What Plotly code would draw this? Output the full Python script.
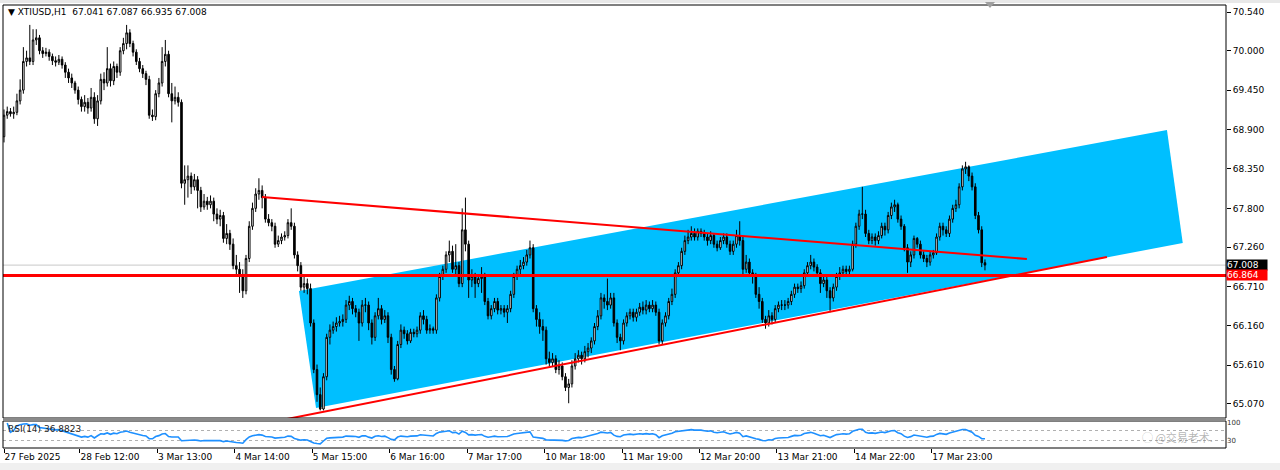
import numpy as np
import plotly.graph_objects as go

# ---------------- data ----------------
first_open = 68.80
close = [
69.10,69.15,69.12,69.14,69.30,69.45,69.85,69.90,69.85,70.15,
70.18,70.00,69.96,69.98,69.92,69.86,69.84,69.88,69.80,69.70,
69.62,69.55,69.45,69.32,69.22,69.28,69.20,69.35,69.05,69.30,
69.60,69.55,69.75,69.58,69.78,69.70,70.00,70.10,70.25,70.10,
69.98,69.85,69.75,69.68,69.60,69.10,69.08,69.40,69.55,69.85,
69.95,69.40,69.30,69.35,69.28,68.15,68.20,68.25,68.10,68.20,
68.05,67.82,67.90,67.85,67.90,67.72,67.65,67.70,67.38,67.45,
67.30,67.00,66.95,66.85,66.65,67.10,67.55,67.80,68.00,68.05,
67.95,67.65,67.60,67.55,67.30,67.35,67.40,67.42,67.60,67.55,
67.15,67.00,66.70,66.75,66.68,66.20,65.55,65.20,65.00,65.45,
66.00,66.10,66.15,66.20,66.22,66.25,66.45,66.50,66.40,66.35,
66.20,66.45,66.45,66.20,66.00,66.30,66.40,66.25,66.30,66.00,
65.55,65.42,65.90,66.10,66.05,65.95,66.07,66.05,66.10,66.30,
66.25,66.10,66.12,66.10,66.55,66.85,66.95,67.15,67.20,66.95,
67.00,66.75,67.50,67.30,66.80,66.85,66.75,66.82,66.85,66.50,
66.30,66.40,66.50,66.38,66.40,66.35,66.40,66.60,66.85,66.95,
67.00,67.05,67.15,67.25,66.40,66.25,66.15,66.10,65.70,65.65,
65.70,65.55,65.60,65.45,65.30,65.35,65.60,65.70,65.75,65.70,
65.80,65.85,65.95,66.15,66.30,66.55,66.50,66.45,66.55,66.20,
66.00,65.95,66.20,66.30,66.35,66.28,66.35,66.42,66.38,66.45,
66.40,66.45,66.35,65.95,66.20,66.30,66.50,66.60,66.90,67.00,
67.20,67.35,67.40,67.45,67.40,67.48,67.45,67.40,67.35,67.42,
67.30,67.25,67.35,67.40,67.30,67.20,67.30,67.42,67.35,66.95,
67.05,66.90,66.85,66.60,66.50,66.25,66.20,66.30,66.25,66.40,
66.45,66.45,66.45,66.50,66.60,66.70,66.68,66.72,66.90,67.00,
67.05,66.98,66.90,66.75,66.80,66.65,66.55,66.70,66.85,66.90,
66.95,66.92,66.95,67.30,67.55,67.72,67.72,67.45,67.35,67.40,
67.35,67.42,67.55,67.50,67.70,67.82,67.85,67.65,67.55,67.25,
67.05,67.15,67.38,67.30,67.15,67.10,67.05,67.15,67.18,67.40,
67.55,67.50,67.45,67.65,67.80,67.85,68.10,68.35,68.38,68.25,
68.10,67.70,67.50,67.041,67.008]
high = [
69.18,69.22,69.20,69.22,69.40,69.60,70.05,70.00,70.36,70.30,
70.30,70.22,70.05,70.04,70.02,69.96,69.92,69.94,69.92,69.84,
69.75,69.68,69.58,69.50,69.36,69.38,69.34,69.48,69.42,69.38,
69.68,69.70,70.05,69.82,69.85,69.82,70.05,70.18,70.36,70.30,
70.14,70.02,69.90,69.80,69.72,69.65,69.18,69.45,69.62,70.05,
70.15,70.00,69.55,69.50,69.42,69.32,68.40,68.40,68.30,68.28,
68.25,68.10,68.00,67.96,67.98,67.95,67.80,67.78,67.75,67.58,
67.50,67.38,67.15,67.05,66.95,67.15,67.62,67.88,68.08,68.22,
68.12,68.00,67.72,67.65,67.60,67.42,67.45,67.48,67.65,67.80,
67.60,67.20,67.05,66.85,66.82,66.75,66.25,65.62,65.30,65.50,
66.05,66.18,66.22,66.28,66.30,66.32,66.52,66.58,66.55,66.45,
66.40,66.52,66.55,66.50,66.25,66.35,66.55,66.45,66.38,66.35,
66.05,65.60,65.95,66.18,66.15,66.10,66.12,66.12,66.15,66.35,
66.38,66.30,66.18,66.15,66.60,66.90,67.00,67.20,67.35,67.28,
67.30,67.05,67.80,67.95,67.35,66.95,66.90,66.88,66.98,66.90,
66.55,66.45,66.55,66.55,66.45,66.45,66.45,66.65,66.90,67.00,
67.08,67.12,67.22,67.35,67.30,66.45,66.35,66.25,66.15,65.80,
65.78,65.75,65.68,65.65,65.50,65.42,65.68,65.78,65.82,65.80,
65.88,65.92,66.00,66.20,66.38,66.62,66.60,66.82,66.62,66.62,
66.25,66.05,66.25,66.35,66.40,66.40,66.40,66.48,66.50,66.52,
66.50,66.52,66.50,66.40,66.25,66.35,66.55,66.68,66.95,67.05,
67.25,67.42,67.50,67.55,67.52,67.52,67.52,67.50,67.45,67.48,
67.45,67.35,67.40,67.45,67.45,67.35,67.35,67.50,67.62,67.40,
67.15,67.10,66.95,66.90,66.70,66.55,66.30,66.38,66.35,66.45,
66.50,66.52,66.52,66.55,66.65,66.75,66.75,66.78,66.95,67.05,
67.15,67.10,67.02,66.95,66.88,66.85,66.70,66.75,66.90,66.98,
67.00,67.00,67.00,67.35,67.60,67.78,68.10,67.78,67.50,67.45,
67.45,67.48,67.60,67.60,67.75,67.88,67.92,67.88,67.70,67.58,
67.30,67.20,67.42,67.40,67.35,67.20,67.15,67.20,67.22,67.45,
67.60,67.60,67.55,67.70,67.85,67.92,68.15,68.40,68.45,68.40,
68.30,68.15,67.75,67.55,67.087]
low = [
68.72,69.05,69.08,69.05,69.10,69.25,69.40,69.78,69.80,69.80,
70.08,69.95,69.90,69.92,69.86,69.80,69.78,69.80,69.75,69.62,
69.55,69.48,69.40,69.25,69.15,69.15,69.12,69.15,68.98,68.95,
69.25,69.45,69.50,69.50,69.52,69.62,69.65,69.95,70.02,70.05,
69.92,69.80,69.70,69.62,69.52,69.05,69.02,69.03,69.35,69.50,
69.78,69.35,69.00,69.25,69.22,68.08,67.85,67.95,68.00,68.05,
67.80,67.75,67.78,67.78,67.80,67.62,67.58,67.55,67.32,67.30,
67.22,66.95,66.85,66.62,66.55,66.60,67.05,67.50,67.75,67.92,
67.80,67.60,67.55,67.48,67.25,67.26,67.30,67.35,67.38,67.50,
67.10,66.92,66.65,66.62,66.60,66.15,65.50,65.10,64.98,64.98,
65.40,65.90,66.05,66.08,66.15,66.15,66.20,66.38,66.32,66.28,
65.95,66.15,66.35,66.10,65.90,65.95,66.25,66.18,66.20,65.92,
65.48,65.38,65.40,65.85,65.98,65.90,65.92,66.00,66.00,66.05,
66.18,66.05,66.05,66.05,66.05,66.50,66.80,66.90,67.05,66.90,
66.85,66.70,66.70,67.20,66.55,66.70,66.55,66.70,66.62,66.45,
66.25,66.25,66.35,66.32,66.32,66.28,66.20,66.35,66.55,66.80,
66.85,66.95,67.00,67.10,66.35,66.15,66.05,65.95,65.62,65.58,
65.60,65.50,65.48,65.40,65.25,65.08,65.30,65.55,65.65,65.62,
65.65,65.72,65.78,65.90,66.10,66.25,66.40,66.38,66.40,66.15,
65.92,65.82,65.90,66.15,66.25,66.22,66.22,66.30,66.32,66.32,
66.35,66.35,66.30,65.90,65.90,66.15,66.25,66.45,66.55,66.85,
66.95,67.15,67.30,67.35,67.35,67.35,67.40,67.35,67.28,67.30,
67.25,67.20,67.22,67.30,67.25,67.15,67.15,67.25,67.28,66.85,
66.90,66.85,66.75,66.55,66.40,66.20,66.12,66.15,66.18,66.20,
66.35,66.38,66.38,66.40,66.45,66.55,66.62,66.62,66.68,66.85,
66.95,66.92,66.85,66.62,66.70,66.55,66.35,66.50,66.65,66.80,
66.85,66.85,66.88,66.92,67.25,67.50,67.65,67.40,67.30,67.30,
67.28,67.30,67.38,67.42,67.45,67.65,67.75,67.60,67.50,67.20,
66.90,66.98,67.10,67.25,67.10,67.05,66.98,67.00,67.10,67.15,
67.35,67.42,67.40,67.40,67.60,67.75,67.80,68.05,68.28,68.18,
68.05,67.65,67.45,66.98,66.935]

x_tick_labels = ["27 Feb 2025", "28 Feb 12:00", "3 Mar 13:00", "4 Mar 14:00",
                 "5 Mar 15:00", "6 Mar 16:00", "7 Mar 17:00", "10 Mar 18:00",
                 "11 Mar 19:00", "12 Mar 20:00", "13 Mar 21:00", "14 Mar 22:00",
                 "17 Mar 23:00"]
bars_per_label = 24
y_ticks = [65.070, 65.610, 66.160, 66.710, 67.260, 67.800, 68.350, 68.900,
           69.450, 70.000, 70.540]
bid_price = 67.008
level_price = 66.864
header_text = "\u25BC XTIUSD,H1  67.041 67.087 66.935 67.008"
rsi_period = 14
rsi_label_value = 36.8823
rsi_levels = [30, 70]
rsi_ticks = [30, 100]
watermark_text = "\u25EF @交易老术."

# drawing objects anchors (bar index, price)
trend_down = [(79.95, 67.958), (317.0, 67.093)]
trend_up = [(87.7, 64.860), (341.8, 67.121)]
channel = [(91.4, 66.647), (96.7, 65.014), (365.3, 67.317), (360.4, 68.893)]

# ---------------- derived ----------------
n = len(close)
idx = np.arange(n)
opn = [first_open] + close[:-1]

c = np.array(close)
d = np.diff(c)
gain = np.where(d > 0, d, 0.0)
loss = np.where(d < 0, -d, 0.0)
rsi = [None]
ag, al = 0.0, 0.0
for i in range(len(d)):
    k = min(i + 1, rsi_period)
    ag = (ag * (k - 1) + gain[i]) / k
    al = (al * (k - 1) + loss[i]) / k
    rsi.append(100.0 if al == 0 else 100 - 100 / (1 + ag / al))

# ---------------- figure ----------------
W, H = 1280, 470
ml, mr, mt, mb = 3, 54, 5, 22
ph = H - mt - mb
main_bottom = (H - mb - 418) / ph
rsi_top = (H - mb - 421) / ph

def py(pix):
    return (H - mb - pix) / ph

def px(pix):
    return (pix - ml) / (W - ml - mr)

fig = go.Figure()
fig.add_trace(go.Candlestick(
    x=idx, open=opn, high=high, low=low, close=close,
    increasing=dict(line=dict(color="black", width=1), fillcolor="white"),
    decreasing=dict(line=dict(color="black", width=1), fillcolor="black"),
    whiskerwidth=0, hoverinfo="skip", showlegend=False, xaxis="x", yaxis="y"))
fig.add_trace(go.Scatter(
    x=idx, y=rsi, mode="lines", line=dict(color="#1E90FF", width=1.6),
    hoverinfo="skip", showlegend=False, xaxis="x", yaxis="y2"))

shapes = []
path = "M " + " L ".join(f"{a},{b}" for a, b in channel) + " Z"
shapes.append(dict(type="path", path=path, xref="x", yref="y",
                   fillcolor="#00BFFF", line=dict(width=0), layer="below"))
shapes.append(dict(type="line", xref="paper", yref="y", x0=0, x1=1,
                   y0=bid_price, y1=bid_price, line=dict(color="#C8C8C8", width=1),
                   layer="below"))
shapes.append(dict(type="line", xref="paper", yref="y", x0=0, x1=1,
                   y0=level_price, y1=level_price, line=dict(color="#FF0000", width=3)))
for (a, b) in (trend_down, trend_up):
    shapes.append(dict(type="line", xref="x", yref="y", x0=a[0], y0=a[1],
                       x1=b[0], y1=b[1], line=dict(color="#FF0000", width=2)))
for lv in rsi_levels:
    shapes.append(dict(type="line", xref="paper", yref="y2", x0=0, x1=1, y0=lv, y1=lv,
                       line=dict(color="#B0B0B0", width=1, dash="dot"), layer="below"))
shapes.append(dict(type="rect", xref="paper", yref="paper", x0=0, x1=1,
                   y0=main_bottom, y1=1, line=dict(color="black", width=1)))
shapes.append(dict(type="rect", xref="paper", yref="paper", x0=0, x1=1,
                   y0=0, y1=rsi_top, line=dict(color="black", width=1)))
shapes.append(dict(type="rect", xref="paper", yref="paper", x0=0, x1=1,
                   y0=rsi_top, y1=main_bottom, fillcolor="#8A8A8A",
                   line=dict(width=0)))
shapes.append(dict(type="rect", xref="paper", yref="paper", x0=px(0), x1=px(W),
                   y0=py(463), y1=py(H), fillcolor="#F0F0F0", line=dict(width=0)))
shapes.append(dict(type="rect", xref="paper", yref="paper", x0=px(0), x1=px(W),
                   y0=py(0), y1=py(3), fillcolor="#E8E8E8", line=dict(width=0)))
shapes.append(dict(type="path", xref="paper", yref="paper",
                   path=f"M {px(985)},{py(2)} L {px(995)},{py(2)} L {px(990)},{py(8)} Z",
                   fillcolor="#A0A0A0", line=dict(width=0)))

font = "DejaVu Sans"
annotations = [
    dict(text=header_text, xref="paper", yref="paper", x=px(6), y=py(12),
         xanchor="left", yanchor="middle", showarrow=False,
         font=dict(family=font, size=9, color="black")),
    dict(text=f"RSI({rsi_period}) {rsi_label_value:.4f}", xref="paper", yref="paper",
         x=px(6), y=py(429), xanchor="left", yanchor="middle", showarrow=False,
         font=dict(family=font, size=9, color="#222222")),
    dict(text=f"{bid_price:.3f}", xref="paper", yref="y", x=1, y=bid_price,
         xanchor="left", yanchor="middle", showarrow=False, bgcolor="black",
         width=40, align="left", borderpad=0,
         font=dict(family=font, size=9, color="white")),
    dict(text=f"{level_price:.3f}", xref="paper", yref="y", x=1, y=level_price,
         xanchor="left", yanchor="middle", showarrow=False, bgcolor="#FF0000",
         width=40, align="left", borderpad=0,
         font=dict(family=font, size=9, color="white")),
    dict(text=watermark_text, xref="paper", yref="paper", x=px(1140), y=py(437),
         xanchor="left", yanchor="middle", showarrow=False,
         font=dict(family="Noto Sans CJK SC", size=11, color="rgba(120,120,120,0.55)")),
]

tickvals = [0] + [bars_per_label * k - 0.45 for k in range(1, len(x_tick_labels))]

fig.update_layout(
    width=W, height=H, margin=dict(l=ml, r=mr, t=mt, b=mb, autoexpand=False),
    paper_bgcolor="white", plot_bgcolor="white",
    font=dict(family=font, size=9, color="black"),
    showlegend=False, shapes=shapes, annotations=annotations,
    xaxis=dict(range=[-0.31, 378.7], anchor="y2", domain=[0, 1],
               tickvals=tickvals, ticktext=x_tick_labels,
               ticks="outside", ticklen=4, tickcolor="black",
               ticklabelposition="outside right",
               showgrid=False, zeroline=False, showline=False,
               rangeslider=dict(visible=False), fixedrange=True,
               tickfont=dict(family=font, size=9, color="black")),
    yaxis=dict(domain=[main_bottom, 1], range=[64.874, 70.638], side="right",
               anchor="x", tickvals=y_ticks, ticktext=[f"{v:.3f}" for v in y_ticks],
               ticks="outside", ticklen=4, tickcolor="black", showgrid=False,
               zeroline=False, showline=False,
               tickfont=dict(family=font, size=9, color="black")),
    yaxis2=dict(domain=[0, rsi_top], range=[0, 108], side="right", anchor="x",
                tickvals=rsi_ticks, ticktext=[str(v) for v in rsi_ticks],
                ticks="", showgrid=False, zeroline=False, showline=False,
                tickfont=dict(family=font, size=7, color="#333333")),
)

fig.write_html("out.html", config={"displayModeBar": False},
               post_script="document.body.style.margin='0';document.body.style.overflow='hidden';")
